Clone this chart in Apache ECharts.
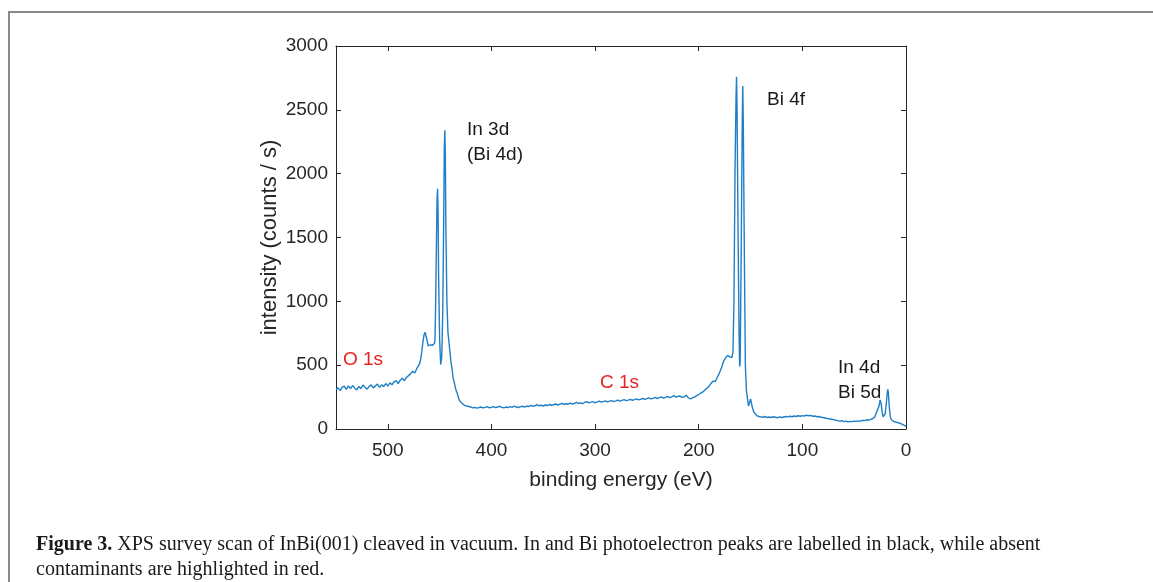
<!DOCTYPE html>
<html>
<head>
    <meta charset="utf-8">
    <script src="https://cdn.jsdelivr.net/npm/echarts@6/dist/echarts.min.js"></script>
    <style>
        body { margin: 0; background: #fff; }
        #frame { position: absolute; left: 8px; top: 11px; right: 0; bottom: 0;
                 border-top: 2px solid #8a8a8a; border-left: 2px solid #8a8a8a; }
        #main { position: absolute; left: 0; top: 0; width: 1153px; height: 582px; }
    </style>
</head>

<body>
    <div id="frame"></div>
    <div id="main"></div>
</body>

<script type="text/javascript">
    // binding energy (eV) and intensity (counts / s)
    const energy = [
        550, 548, 546, 544, 542, 540, 538, 536, 534, 532, 530, 528, 526, 524, 522, 520, 518, 516, 514, 512,
        510, 508, 506, 504, 502, 500, 498, 496, 494, 492, 490, 488, 486, 484, 482, 480, 478, 476, 474, 472,
        470, 469, 468, 467, 466, 465, 464, 463, 462, 461, 460, 459, 458, 457, 456, 455, 454.5, 454, 453, 452.5,
        452, 451.5, 451, 450, 449, 448, 447, 446, 445.5, 445, 444.5, 444, 443, 442, 441, 440, 439, 438, 437, 436,
        435, 434, 433, 432, 431, 430, 429, 428, 426, 424, 422, 420, 418, 416, 414, 412, 410, 408, 406, 404,
        402, 400, 398, 396, 394, 392, 390, 388, 386, 384, 382, 380, 378, 376, 374, 372, 370, 368, 366, 364,
        362, 360, 358, 356, 354, 352, 350, 348, 346, 344, 342, 340, 338, 336, 334, 332, 330, 328, 326, 324,
        322, 320, 318, 316, 314, 312, 310, 308, 306, 304, 302, 300, 298, 296, 294, 292, 290, 288, 286, 284,
        282, 280, 278, 276, 274, 272, 270, 268, 266, 264, 262, 260, 258, 256, 254, 252, 250, 248, 246, 244,
        242, 240, 238, 236, 234, 232, 230, 228, 226, 224, 222, 220, 218, 216, 214, 212, 210, 208, 206, 204,
        202, 200, 198, 196, 194, 192, 190, 188, 187, 186, 185, 184, 183, 182, 180, 178, 176, 174, 172, 171,
        170, 169, 168, 167, 166, 165, 164, 163.5, 163, 162, 161, 160.5, 160, 159, 158, 157.5, 157, 156, 155, 154,
        153, 152, 151, 150, 149, 148, 147, 146, 144, 142, 140, 138, 136, 134, 132, 130, 128, 126, 124, 122,
        120, 118, 116, 114, 112, 110, 108, 106, 104, 102, 100, 98, 96, 94, 92, 90, 88, 86, 84, 82,
        80, 78, 76, 74, 72, 70, 68, 66, 64, 62, 60, 58, 56, 54, 52, 50, 48, 46, 44, 42,
        40, 38, 36, 34, 32, 30, 29, 28, 27, 26, 25, 24, 23, 22, 21, 20, 19, 18, 17.5, 17,
        16, 15, 14, 12, 10, 8, 6, 4, 2, 0
    ];
    const counts = [
        310, 322, 300, 328, 336, 310, 338, 316, 340, 322, 306, 334, 316, 344, 326, 312, 334, 346, 322, 336,
        352, 326, 346, 332, 356, 336, 362, 346, 370, 378, 356, 382, 398, 378, 404, 418, 432, 452, 438, 474,
        500, 520, 560, 620, 690, 740, 758, 745, 690, 650, 640, 660, 648, 655, 650, 670, 700, 900, 1500, 1800,
        1882, 1700, 1200, 700, 505, 560, 900, 1700, 2200, 2340, 2150, 1600, 1000, 760, 680, 600, 520, 470, 400, 370,
        330, 300, 280, 250, 225, 210, 205, 195, 185, 180, 176, 172, 165, 170, 163, 168, 172, 165, 170, 175,
        166, 170, 175, 168, 172, 178, 170, 165, 172, 168, 175, 170, 180, 172, 168, 175, 178, 172, 180, 175,
        185, 178, 182, 190, 182, 186, 180, 188, 184, 192, 186, 190, 196, 188, 195, 200, 192, 198, 194, 202,
        196, 200, 208, 200, 205, 198, 210, 215, 205, 210, 215, 205, 212, 218, 210, 215, 220, 212, 218, 222,
        215, 220, 226, 218, 224, 230, 222, 226, 232, 225, 230, 236, 228, 232, 240, 232, 238, 244, 236, 240,
        248, 238, 246, 252, 242, 248, 255, 246, 252, 262, 250, 256, 258, 248, 252, 264, 245, 235, 245, 250,
        262, 270, 282, 290, 305, 320, 335, 360, 345, 375, 360, 372, 390, 405, 440, 480, 530, 560, 575, 580,
        565, 555, 560, 600, 1000, 2000, 2600, 2759, 2500, 1500, 700, 490, 520, 1400, 2400, 2686, 2400, 1400, 500, 300,
        240, 180, 190, 235, 220, 160, 135, 120, 105, 98, 95, 92, 98, 90, 94, 90, 96, 92, 88, 95,
        90, 94, 98, 95, 100, 96, 102, 98, 104, 100, 105, 102, 108, 104, 106, 100, 102, 96, 98, 92,
        90, 86, 82, 80, 76, 74, 70, 66, 62, 65, 58, 62, 56, 60, 58, 62, 60, 64, 62, 68,
        66, 72, 70, 76, 82, 95, 120, 140, 130, 180, 228, 200, 130, 96, 90, 120, 200, 290, 310, 280,
        160, 90, 72, 60, 55, 50, 45, 38, 30, 20
    ];
    const xTicks = [0, 100, 200, 300, 400, 500];

    const axisColor = '#262626';
    const labelFont = 'Liberation Sans';

    const myChart = echarts.init(document.getElementById('main'));

    const spectrum = energy.map((e, i) => [e, counts[i]]);

    function note(text, x, y, color) {
        return {
            type: 'text', left: x, top: y,
            style: { text: text, fill: color || '#1a1a1a', font: '19px "Liberation Sans"', verticalAlign: 'middle' }
        };
    }

    const boxLine = { show: true, onZero: false, lineStyle: { color: axisColor, width: 1 } };
    const boxTick = { show: true, inside: true, length: 5, lineStyle: { color: axisColor } };

    const option = {
        animation: false,
        backgroundColor: 'transparent',
        grid: { left: 336, top: 46, width: 570, height: 383, show: false },
        xAxis: [
            {
                type: 'value', min: 0, max: 550, interval: 100, inverse: true,
                name: 'binding energy (eV)', nameLocation: 'middle', nameGap: 41,
                nameTextStyle: { color: axisColor, fontSize: 21, fontFamily: labelFont },
                axisLine: boxLine,
                axisTick: boxTick,
                axisLabel: {
                    color: axisColor, fontSize: 19, fontFamily: labelFont, margin: 12,
                    formatter: v => xTicks.includes(v) ? String(v) : ''
                },
                splitLine: { show: false }
            },
            {
                type: 'value', min: 0, max: 550, interval: 100, inverse: true, position: 'top',
                axisLine: boxLine,
                axisTick: boxTick,
                axisLabel: { show: false },
                splitLine: { show: false }
            }
        ],
        yAxis: [
            {
                type: 'value', min: 0, max: 3000, interval: 500,
                name: 'intensity (counts / s)', nameLocation: 'middle', nameGap: 55,
                nameTextStyle: { color: axisColor, fontSize: 22, fontFamily: labelFont },
                axisLine: boxLine,
                axisTick: boxTick,
                axisLabel: { color: axisColor, fontSize: 19, fontFamily: labelFont, margin: 8, formatter: v => String(v) },
                splitLine: { show: false }
            },
            {
                type: 'value', min: 0, max: 3000, interval: 500, position: 'right',
                axisLine: boxLine,
                axisTick: boxTick,
                axisLabel: { show: false },
                splitLine: { show: false }
            }
        ],
        series: [
            {
                type: 'line',
                name: 'XPS survey',
                xAxisIndex: 0, yAxisIndex: 0,
                data: spectrum,
                showSymbol: false,
                lineStyle: { color: '#1f7fc6', width: 1.4 }
            }
        ],
        graphic: [
            note('In 3d', 467, 120),
            note('(Bi 4d)', 467, 145),
            note('Bi 4f', 767, 90),
            note('O 1s', 343, 350, '#e52421'),
            note('C 1s', 600, 373, '#e52421'),
            note('In 4d', 838, 358),
            note('Bi 5d', 838, 383),
            {
                type: 'text', left: 36, top: 535,
                style: {
                    text: '{b|Figure 3.} XPS survey scan of InBi(001) cleaved in vacuum. In and Bi photoelectron peaks are labelled in black, while absent',
                    rich: { b: { font: 'bold 20px "Liberation Serif"', fill: '#1a1a1a' } },
                    font: '20px "Liberation Serif"', fill: '#1a1a1a', verticalAlign: 'middle'
                }
            },
            {
                type: 'text', left: 36, top: 560,
                style: { text: 'contaminants are highlighted in red.', font: '20px "Liberation Serif"', fill: '#1a1a1a', verticalAlign: 'middle' }
            }
        ]
    };
    option && myChart.setOption(option);
</script>
</html>
